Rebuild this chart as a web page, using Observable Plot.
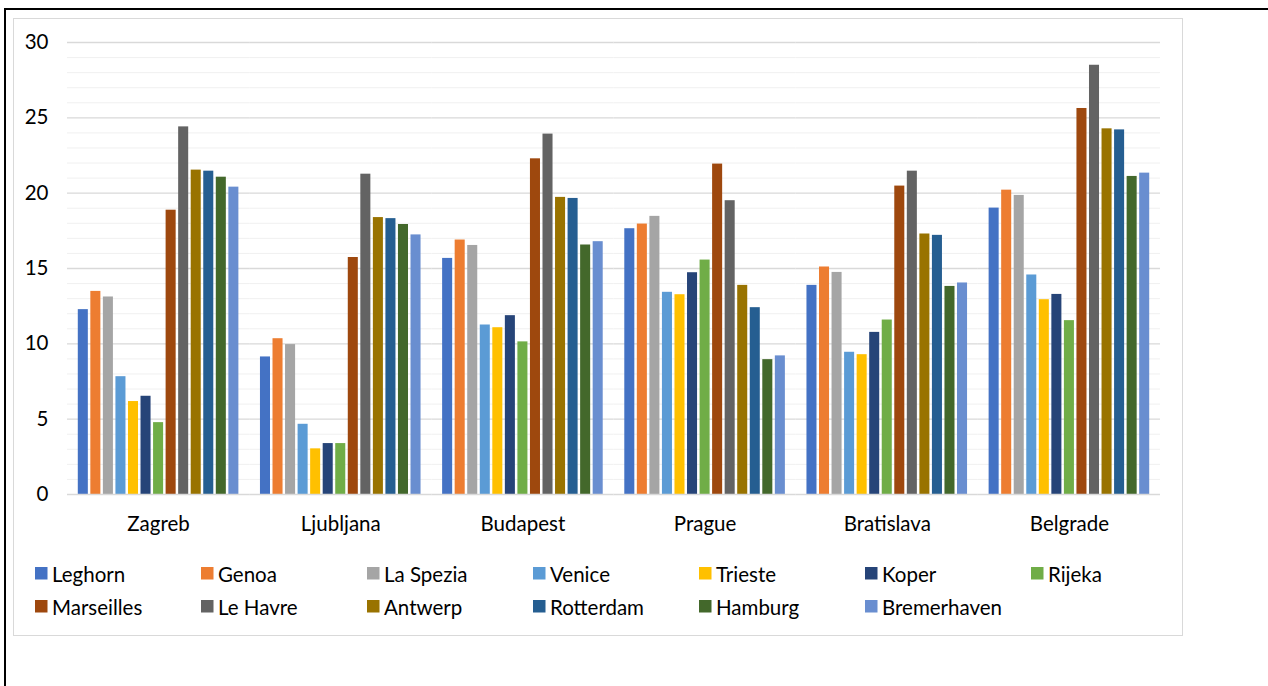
<!DOCTYPE html>
<html>
<head>
<meta charset="utf-8">
<script src="https://cdn.jsdelivr.net/npm/d3@7"></script>
<script src="https://cdn.jsdelivr.net/npm/@observablehq/plot@0.6"></script>
<style>
  html, body { margin: 0; padding: 0; background: #fff; }
  #page { position: relative; width: 1268px; height: 686px; overflow: hidden; }
  #outer { position: absolute; left: 4px; top: 8px; right: -4px; bottom: -4px;
           border-top: 2px solid #000; border-left: 2px solid #000; }
  #frame { position: absolute; left: 13px; top: 18px; width: 1170px; height: 618px;
           box-sizing: border-box; border: 1.5px solid #d9d9d9; }
  #chart { position: absolute; left: 0; top: 0; }
  #legend { position: absolute; left: 35px; top: 557px; }
  .lg-swatches { margin: 0 !important; width: 1170px; row-gap: 0; }
  .lg-swatches-wrap { min-height: 0 !important; }
  .lg-swatch { width: 166px; height: 33px; margin: 0 !important; }
  .lg-swatch > svg { margin-right: 4.5px !important; }
</style>
</head>
<body>
<div id="page">
  <div id="outer"></div>
  <div id="frame"></div>
  <div id="chart"></div>
  <div id="legend"></div>
</div>
<script>
// Cities (groups along the x axis) and ports (one bar each)
const cities = ["Zagreb", "Ljubljana", "Budapest", "Prague", "Bratislava", "Belgrade"];
const ports = ["Leghorn", "Genoa", "La Spezia", "Venice", "Trieste", "Koper", "Rijeka",
               "Marseilles", "Le Havre", "Antwerp", "Rotterdam", "Hamburg", "Bremerhaven"];
const portColors = ["#4472C4", "#ED7D31", "#A5A5A5", "#5B9BD5", "#FFC000", "#264478", "#70AD47",
                    "#9E480E", "#636363", "#997300", "#255E91", "#43682B", "#698ED0"];

// Values per city, in port order
const zagreb     = [12.27, 13.48, 13.11, 7.82, 6.17, 6.52, 4.77, 18.87, 24.40, 21.53, 21.46, 21.06, 20.40];
const ljubljana  = [9.13, 10.34, 9.95, 4.66, 3.03, 3.38, 3.38, 15.73, 21.26, 18.38, 18.31, 17.92, 17.23];
const budapest   = [15.67, 16.89, 16.53, 11.25, 11.07, 11.87, 10.13, 22.28, 23.92, 19.72, 19.65, 16.56, 16.78];
const prague     = [17.64, 17.95, 18.46, 13.42, 13.26, 14.72, 15.56, 21.93, 19.50, 13.88, 12.40, 8.95, 9.20];
const bratislava = [13.88, 15.10, 14.74, 9.44, 9.28, 10.76, 11.58, 20.47, 21.46, 17.29, 17.20, 13.81, 14.04];
const belgrade   = [19.01, 20.20, 19.85, 14.57, 12.93, 13.28, 11.54, 25.62, 28.49, 24.27, 24.20, 21.11, 21.33];

// Axis ticks and gridlines
const majorTicks = [0, 5, 10, 15, 20, 25, 30];
const minorTicks = [1, 2, 3, 4, 6, 7, 8, 9, 11, 12, 13, 14, 16, 17, 18, 19, 21, 22, 23, 24, 26, 27, 28, 29];

const cityValues = [zagreb, ljubljana, budapest, prague, bratislava, belgrade];
const rows = cities.flatMap((city, i) =>
  ports.map((port, j) => ({city, port, value: cityValues[i][j]})));

const FONT = "Lato, Carlito, Calibri, 'Open Sans', sans-serif";
const FS = 20.5;

const chart = Plot.plot({
  width: 1268,
  height: 545,
  marginLeft: 67,
  marginRight: 108,
  marginTop: 42,
  marginBottom: 51,
  style: {background: "none", fontFamily: FONT, fontSize: FS + "px", color: "#000", overflow: "visible"},
  fx: {domain: cities, padding: 0, round: false, label: null},
  x: {domain: ports, paddingInner: 0.2, paddingOuter: 0.86, round: false, axis: null},
  y: {domain: [0, 30], label: null},
  color: {domain: ports, range: portColors},
  marks: [
    Plot.ruleY(minorTicks, {stroke: "#f0f0f0", strokeWidth: 1}),
    Plot.ruleY(majorTicks.slice(1), {stroke: "#d9d9d9", strokeWidth: 1.3}),
    Plot.barY(rows, {fx: "city", x: "port", y: "value", fill: "port"}),
    Plot.ruleY([0], {stroke: "#d9d9d9", strokeWidth: 1.6}),
    Plot.axisY(majorTicks, {tickSize: 0, tickPadding: 19, label: null, fontSize: FS}),
    Plot.axisFx({anchor: "bottom", tickSize: 0, tickPadding: 22, label: null, fontSize: FS})
  ]
});
document.getElementById("chart").appendChild(chart);

const legend = chart.legend("color", {
  className: "lg",
  swatchSize: 12.5,
  style: {fontFamily: FONT, fontSize: "20.5px", color: "#000"}
});
document.getElementById("legend").appendChild(legend);
</script>
</body>
</html>
